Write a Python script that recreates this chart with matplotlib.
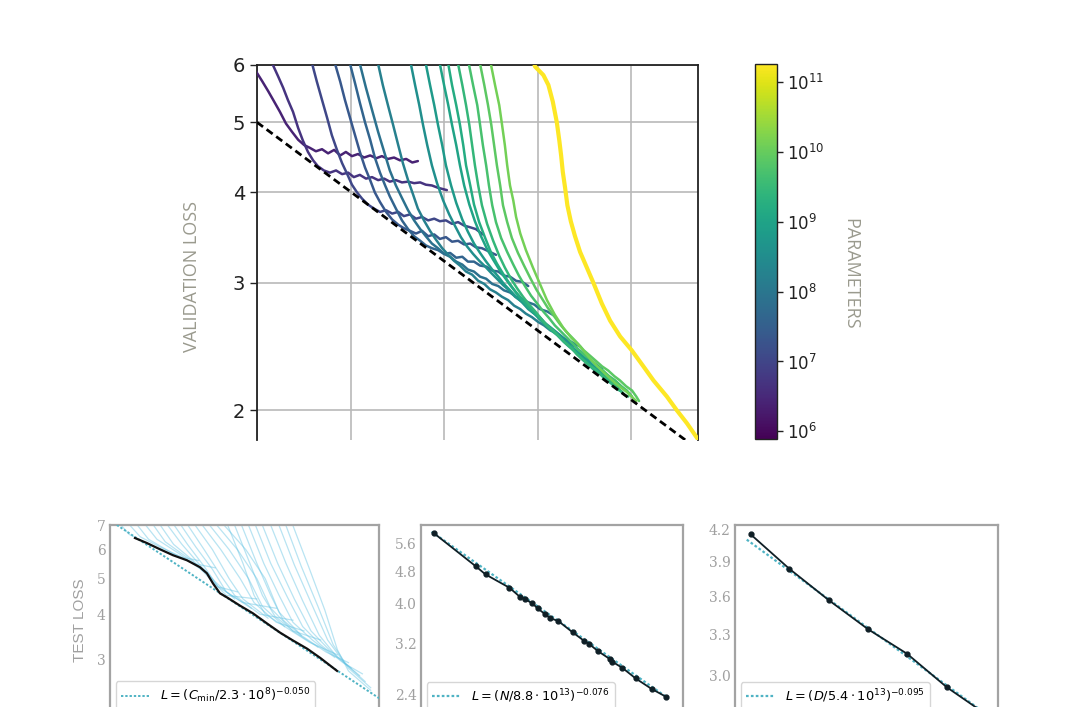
import numpy as np
import matplotlib
matplotlib.use("Agg")
import matplotlib.pyplot as plt
from matplotlib.colors import LogNorm
from matplotlib.ticker import FixedLocator, NullLocator, FixedFormatter
import matplotlib.cm as cm

# ---------------- top chart: validation loss vs compute (log10 PF-days) ----------------
model_params = [2.5e6, 5.0e6, 1.1e7, 2.2e7, 4.0e7, 7.9e7, 1.6e8, 3.5e8, 6.3e8,
                1.0e9, 1.6e9, 2.8e9, 5.0e9, 7.9e9, 1.3e10, 1.75e11]

v01_logc = [-6.10, -6.00, -5.89, -5.76, -5.64, -5.51, -5.38, -5.25, -5.12, -4.99, -4.87, -4.74, -4.61, -4.48,
            -4.35, -4.22, -4.10, -3.97, -3.84, -3.71, -3.58, -3.45, -3.33, -3.20, -3.07, -2.94, -2.81, -2.68, -2.56]
v01_loss = [6.05, 5.85, 5.70, 5.52, 5.35, 5.17, 4.98, 4.85, 4.73, 4.65, 4.61, 4.56, 4.59, 4.53,
            4.58, 4.50, 4.55, 4.49, 4.52, 4.47, 4.50, 4.46, 4.49, 4.45, 4.47, 4.43, 4.45, 4.40, 4.42]

v02_logc = [-5.70, -5.55, -5.44, -5.34, -5.23, -5.12, -5.02, -4.91, -4.80, -4.70, -4.57, -4.44, -4.31, -4.18, -4.05,
            -3.93, -3.80, -3.67, -3.54, -3.41, -3.28, -3.16, -3.03, -2.90, -2.77, -2.64, -2.51, -2.39, -2.26, -2.13, -1.94]
v02_loss = [6.08, 5.79, 5.58, 5.37, 5.17, 4.91, 4.72, 4.55, 4.43, 4.35, 4.29, 4.26, 4.29, 4.24, 4.26,
            4.20, 4.23, 4.18, 4.20, 4.16, 4.18, 4.14, 4.16, 4.13, 4.14, 4.12, 4.13, 4.10, 4.09, 4.06, 4.03]

v03_logc = [-4.82, -4.72, -4.61, -4.50, -4.40, -4.29, -4.18, -4.07, -3.97, -3.86, -3.75, -3.63, -3.50, -3.37, -3.24, -3.11,
            -2.98, -2.86, -2.73, -2.60, -2.47, -2.34, -2.21, -2.09, -1.96, -1.83, -1.70, -1.57, -1.44, -1.32, -1.17]
v03_loss = [6.02, 5.69, 5.37, 5.07, 4.80, 4.58, 4.39, 4.24, 4.10, 4.00, 3.92, 3.85, 3.80, 3.76, 3.78, 3.74,
            3.76, 3.71, 3.73, 3.68, 3.70, 3.66, 3.68, 3.65, 3.66, 3.62, 3.64, 3.60, 3.58, 3.56, 3.50]

v04_logc = [-4.33, -4.22, -4.12, -4.01, -3.90, -3.80, -3.69, -3.58, -3.48, -3.37, -3.24, -3.11, -2.98, -2.86, -2.73,
            -2.60, -2.47, -2.34, -2.21, -2.09, -1.96, -1.83, -1.70, -1.57, -1.44, -1.32, -1.19, -1.06, -0.89]
v04_loss = [6.02, 5.69, 5.37, 5.07, 4.79, 4.55, 4.33, 4.16, 4.00, 3.88, 3.76, 3.67, 3.61, 3.57, 3.54,
            3.51, 3.54, 3.48, 3.50, 3.45, 3.47, 3.42, 3.43, 3.39, 3.40, 3.36, 3.35, 3.32, 3.28]

v05_logc = [-4.01, -3.90, -3.80, -3.69, -3.58, -3.48, -3.37, -3.26, -3.16, -3.03, -2.90, -2.77, -2.64, -2.51, -2.39, -2.26,
            -2.13, -2.00, -1.87, -1.74, -1.61, -1.49, -1.36, -1.23, -1.10, -0.97, -0.84, -0.72, -0.59, -0.46, -0.33, -0.20]
v05_loss = [6.02, 5.65, 5.32, 5.00, 4.73, 4.47, 4.26, 4.09, 3.95, 3.80, 3.66, 3.56, 3.48, 3.43, 3.38, 3.35,
            3.33, 3.29, 3.30, 3.25, 3.26, 3.21, 3.21, 3.17, 3.16, 3.12, 3.11, 3.07, 3.06, 3.02, 3.01, 2.97]

v06_logc = [-3.80, -3.67, -3.54, -3.41, -3.28, -3.16, -3.03, -2.90, -2.77, -2.64, -2.51, -2.39, -2.26, -2.13, -2.00, -1.87, -1.74,
            -1.61, -1.49, -1.36, -1.23, -1.10, -0.97, -0.84, -0.72, -0.59, -0.46, -0.33, -0.20, -0.07, 0.05, 0.20, 0.37]
v06_loss = [6.02, 5.58, 5.20, 4.85, 4.55, 4.29, 4.09, 3.93, 3.78, 3.66, 3.56, 3.48, 3.40, 3.35, 3.29, 3.26, 3.21,
            3.18, 3.13, 3.11, 3.06, 3.04, 2.99, 2.97, 2.93, 2.91, 2.87, 2.85, 2.82, 2.80, 2.76, 2.74, 2.70]

v07_logc = [-3.41, -3.31, -3.20, -3.09, -2.98, -2.88, -2.77, -2.66, -2.56, -2.43, -2.30, -2.17, -2.04, -1.91, -1.79, -1.66, -1.53, -1.40,
            -1.27, -1.14, -1.02, -0.89, -0.76, -0.63, -0.50, -0.37, -0.25, -0.12, 0.01, 0.14, 0.27, 0.39, 0.52, 0.70, 0.91]
v07_loss = [6.02, 5.63, 5.28, 4.96, 4.65, 4.39, 4.16, 3.97, 3.80, 3.66, 3.54, 3.44, 3.35, 3.28, 3.22, 3.17, 3.11, 3.08,
            3.02, 2.99, 2.94, 2.91, 2.87, 2.84, 2.79, 2.76, 2.72, 2.69, 2.65, 2.62, 2.58, 2.56, 2.52, 2.49, 2.45]

v08_logc = [-2.71, -2.62, -2.53, -2.45, -2.36, -2.26, -2.15, -2.02, -1.89, -1.76, -1.64, -1.51, -1.38, -1.25, -1.12, -1.00, -0.87,
            -0.74, -0.61, -0.48, -0.35, -0.22, -0.10, 0.03, 0.16, 0.29, 0.42, 0.55, 0.67, 0.80, 0.93, 1.08, 1.23, 1.38]
v08_loss = [6.02, 5.63, 5.28, 4.96, 4.65, 4.36, 4.12, 3.90, 3.73, 3.59, 3.47, 3.37, 3.29, 3.22, 3.16, 3.10, 3.04,
            2.98, 2.93, 2.87, 2.83, 2.78, 2.73, 2.69, 2.64, 2.60, 2.56, 2.52, 2.48, 2.45, 2.41, 2.36, 2.32, 2.28]

v09_logc = [-2.39, -2.30, -2.21, -2.13, -2.04, -1.96, -1.85, -1.74, -1.61, -1.49, -1.36, -1.23, -1.10, -0.97, -0.84, -0.72, -0.59,
            -0.46, -0.33, -0.20, -0.07, 0.05, 0.18, 0.31, 0.44, 0.57, 0.70, 0.82, 0.95, 1.08, 1.21, 1.34, 1.47, 1.59]
v09_loss = [6.02, 5.63, 5.28, 4.96, 4.65, 4.36, 4.09, 3.87, 3.67, 3.53, 3.40, 3.30, 3.21, 3.13, 3.06, 2.99, 2.93,
            2.87, 2.82, 2.76, 2.72, 2.67, 2.62, 2.58, 2.54, 2.49, 2.45, 2.42, 2.38, 2.34, 2.30, 2.27, 2.23, 2.20]

v10_logc = [-2.09, -2.00, -1.91, -1.83, -1.74, -1.66, -1.57, -1.46, -1.34, -1.21, -1.08, -0.95, -0.82, -0.70, -0.57, -0.44, -0.31,
            -0.18, -0.05, 0.07, 0.20, 0.33, 0.46, 0.59, 0.72, 0.84, 0.97, 1.10, 1.23, 1.36, 1.49, 1.62, 1.72]
v10_loss = [6.02, 5.63, 5.28, 4.96, 4.65, 4.36, 4.09, 3.85, 3.65, 3.48, 3.34, 3.23, 3.13, 3.05, 2.97, 2.90, 2.84,
            2.78, 2.73, 2.68, 2.62, 2.58, 2.53, 2.48, 2.45, 2.40, 2.36, 2.32, 2.28, 2.25, 2.21, 2.18, 2.15]

v11_logc = [-1.91, -1.83, -1.74, -1.66, -1.59, -1.53, -1.44, -1.36, -1.25, -1.12, -1.00, -0.87, -0.74, -0.61, -0.48, -0.35, -0.22,
            -0.10, 0.03, 0.16, 0.29, 0.42, 0.55, 0.67, 0.80, 0.93, 1.06, 1.19, 1.32, 1.44, 1.57, 1.70, 1.81]
v11_loss = [6.02, 5.63, 5.28, 4.96, 4.65, 4.36, 4.09, 3.85, 3.64, 3.46, 3.31, 3.19, 3.09, 3.00, 2.92, 2.85, 2.79,
            2.74, 2.69, 2.63, 2.58, 2.54, 2.49, 2.45, 2.41, 2.36, 2.32, 2.28, 2.25, 2.21, 2.18, 2.14, 2.12]

v12_logc = [-1.70, -1.61, -1.53, -1.46, -1.40, -1.34, -1.27, -1.19, -1.08, -0.95, -0.82, -0.70, -0.57, -0.44, -0.31, -0.18, -0.05,
            0.07, 0.20, 0.33, 0.46, 0.59, 0.72, 0.84, 0.97, 1.10, 1.23, 1.36, 1.49, 1.62, 1.74, 1.87, 1.94]
v12_loss = [6.02, 5.63, 5.28, 4.96, 4.65, 4.36, 4.09, 3.84, 3.62, 3.43, 3.27, 3.15, 3.04, 2.95, 2.87, 2.80, 2.74,
            2.68, 2.62, 2.58, 2.53, 2.48, 2.44, 2.39, 2.35, 2.31, 2.28, 2.24, 2.21, 2.17, 2.14, 2.10, 2.09]

v13_logc = [-1.47, -1.38, -1.29, -1.23, -1.17, -1.10, -1.04, -0.97, -0.89, -0.78, -0.65, -0.52, -0.40, -0.27, -0.14, -0.01,
            0.12, 0.25, 0.37, 0.50, 0.63, 0.76, 0.89, 1.02, 1.14, 1.27, 1.40, 1.53, 1.66, 1.79, 1.91, 2.02]
v13_loss = [6.02, 5.63, 5.28, 4.96, 4.65, 4.36, 4.09, 3.84, 3.64, 3.46, 3.31, 3.18, 3.07, 2.97, 2.88, 2.81,
            2.74, 2.68, 2.62, 2.57, 2.52, 2.47, 2.42, 2.38, 2.35, 2.30, 2.27, 2.23, 2.20, 2.16, 2.13, 2.09]

v14_logc = [-1.23, -1.14, -1.06, -0.99, -0.93, -0.87, -0.80, -0.74, -0.65, -0.55, -0.42, -0.29, -0.16, -0.03, 0.10, 0.22,
            0.35, 0.48, 0.61, 0.74, 0.87, 0.99, 1.12, 1.25, 1.38, 1.51, 1.64, 1.76, 1.89, 2.02, 2.11, 2.17]
v14_loss = [6.02, 5.63, 5.28, 4.96, 4.65, 4.36, 4.09, 3.84, 3.64, 3.46, 3.30, 3.17, 3.05, 2.94, 2.85, 2.77,
            2.70, 2.63, 2.57, 2.52, 2.47, 2.42, 2.38, 2.34, 2.30, 2.27, 2.23, 2.20, 2.16, 2.13, 2.09, 2.06]

v15_logc = [-1.00, -0.91, -0.82, -0.76, -0.70, -0.65, -0.59, -0.52, -0.46, -0.37, -0.25, -0.10, 0.05, 0.20, 0.37,
            0.55, 0.72, 0.91, 1.14, 1.40, 1.66, 1.91, 2.11]
v15_loss = [6.02, 5.63, 5.28, 4.96, 4.65, 4.36, 4.09, 3.90, 3.70, 3.51, 3.33, 3.15, 2.99, 2.84, 2.71,
            2.60, 2.52, 2.45, 2.35, 2.26, 2.18, 2.12, 2.06]

v16_logc = [-0.08, -0.054, 0.124, 0.231, 0.325, 0.411, 0.466, 0.503, 0.539, 0.588, 0.637, 0.710, 0.80, 0.909,
            0.980, 1.194, 1.373, 1.551, 1.765, 2.015, 2.263, 2.477, 2.764, 2.978, 3.192, 3.44, 3.50]
v16_loss = [6.05, 5.97, 5.81, 5.63, 5.34, 5.00, 4.71, 4.50, 4.27, 4.06, 3.84, 3.65, 3.48, 3.31,
            3.23, 3.00, 2.81, 2.66, 2.53, 2.42, 2.30, 2.20, 2.09, 2.00, 1.92, 1.82, 1.79]

frontier_logc = [-6.0, 3.16]
frontier_loss = [5.0, 1.82]

y_ticks_top = [2, 3, 4, 5, 6]
x_grid_top = [1e-6, 1e-4, 1e-2, 1e0, 1e2]
cbar_ticks = [1e6, 1e7, 1e8, 1e9, 1e10, 1e11]

# ---------------- bottom left: test loss vs compute ----------------
tl01 = [(-8.6, 7.3), (-8.1, 6.6), (-7.3, 6.15), (-6.5, 5.8)]
tl02 = [(-8.3, 7.3), (-7.7, 6.5), (-7.0, 6.1), (-6.2, 5.72), (-5.6, 5.6)]
tl03 = [(-8.0, 7.3), (-7.4, 6.4), (-6.6, 5.9), (-5.8, 5.5), (-5.0, 5.35)]
tl04 = [(-7.7, 7.3), (-7.1, 6.4), (-6.3, 5.85), (-5.6, 5.35), (-5.2, 5.1)]
tl05 = [(-7.4, 7.3), (-6.8, 6.3), (-6.0, 5.7), (-5.3, 5.2), (-4.9, 4.75), (-4.2, 4.6)]
tl06 = [(-7.15, 7.3), (-6.5, 6.2), (-5.8, 5.6), (-5.2, 5.0), (-4.6, 4.5), (-3.5, 4.4)]
tl07 = [(-6.9, 7.3), (-6.2, 6.2), (-5.6, 5.5), (-5.0, 4.9), (-4.3, 4.4)]
tl08 = [(-6.65, 7.3), (-6.0, 6.2), (-5.4, 5.4), (-4.9, 4.75), (-4.0, 4.3), (-2.8, 4.15)]
tl09 = [(-6.4, 7.3), (-5.7, 6.1), (-5.1, 5.3), (-4.6, 4.6), (-3.7, 4.15)]
tl10 = [(-6.15, 7.3), (-5.4, 6.0), (-4.8, 5.1), (-4.3, 4.5), (-3.4, 4.0), (-2.2, 3.85)]
tl11 = [(-5.9, 7.3), (-5.1, 6.0), (-4.5, 5.0), (-4.0, 4.4), (-3.1, 3.9)]
tl12 = [(-5.65, 7.3), (-4.8, 6.0), (-4.1, 5.0), (-3.6, 4.3), (-2.8, 3.8), (-1.8, 3.6)]
tl13 = [(-5.4, 7.3), (-4.5, 6.0), (-3.8, 5.0), (-3.3, 4.2), (-2.5, 3.7)]
tl14 = [(-5.15, 7.3), (-4.2, 6.0), (-3.5, 5.0), (-3.0, 4.15), (-2.2, 3.6), (-1.2, 3.4)]
tl15 = [(-4.9, 7.3), (-3.9, 6.0), (-3.2, 5.0), (-2.7, 4.05), (-1.9, 3.5)]
tl16 = [(-4.65, 7.3), (-4.0, 5.5), (-3.6, 4.5), (-3.2, 4.0), (-2.5, 3.7), (-1.6, 3.35), (-0.6, 3.1)]
tl17 = [(-4.4, 7.3), (-3.75, 5.5), (-3.3, 4.5), (-2.85, 3.95), (-2.2, 3.6), (-1.3, 3.25)]
tl18 = [(-4.15, 7.3), (-3.5, 5.5), (-3.0, 4.5), (-2.55, 3.85), (-1.9, 3.5), (-1.0, 3.15), (-0.2, 2.95)]
tl19 = [(-3.9, 7.3), (-3.25, 5.5), (-2.7, 4.5), (-2.2, 3.8), (-1.5, 3.4), (-0.7, 3.05)]
tl20 = [(-3.65, 7.3), (-3.0, 5.5), (-2.4, 4.45), (-1.85, 3.7), (-1.2, 3.3), (-0.4, 2.95), (0.3, 2.75)]
tl21 = [(-3.4, 7.3), (-2.75, 5.5), (-2.15, 4.4), (-1.55, 3.6), (-0.9, 3.2), (-0.1, 2.85)]
tl22 = [(-3.1, 7.3), (-2.45, 5.5), (-1.85, 4.35), (-1.25, 3.5), (-0.6, 3.05), (0.2, 2.72)]
tl23 = [(-2.8, 7.3), (-2.15, 5.45), (-1.55, 4.3), (-0.95, 3.4), (-0.35, 2.95), (0.4, 2.62)]
tl24 = [(-2.55, 7.3), (-1.9, 5.4), (-1.3, 4.2), (-0.75, 3.3), (-0.2, 2.85), (0.6, 2.52)]
tl25 = [(-2.3, 7.3), (-1.6, 5.3), (-1.05, 4.1), (-0.6, 3.2), (-0.2, 2.8), (0.6, 2.48)]

p1_front_logc = [-7.89, -7.46, -6.99, -6.52, -6.02, -5.55, -5.30, -5.08, -4.83, -4.57, -4.11, -3.64,
                 -3.13, -2.66, -2.20, -1.69, -1.22, -0.61]
p1_front_loss = [6.45, 6.25, 6.01, 5.79, 5.61, 5.37, 5.17, 4.85, 4.56, 4.44, 4.22, 4.02,
                 3.77, 3.56, 3.39, 3.22, 3.04, 2.80]
p1_fit_logc = [-8.8, 0.9]
p1_fit_loss = [7.21, 2.36]
p1_yticks = [3, 4, 5, 6, 7]

# ---------------- bottom middle: test loss vs parameters ----------------
p2_logn = [3.76, 4.70, 4.92, 5.46, 5.70, 5.81, 5.98, 6.10, 6.26, 6.39, 6.57, 6.89, 7.15, 7.27,
           7.46, 7.74, 7.79, 8.02, 8.32, 8.68, 9.00]
p2_loss = [5.94, 4.94, 4.72, 4.38, 4.16, 4.11, 4.01, 3.90, 3.78, 3.69, 3.63, 3.41, 3.25, 3.19,
           3.07, 2.93, 2.89, 2.79, 2.63, 2.48, 2.375]
p2_fit_logn = [3.7, 9.05]
p2_fit_loss = [6.00, 2.355]
p2_yticks = [2.4, 3.2, 4.0, 4.8, 5.6]

# ---------------- bottom right: test loss vs dataset size ----------------
p3_logd = [7.309, 7.605, 7.909, 8.210, 8.508, 8.815, 9.116]
p3_loss = [4.15, 3.835, 3.567, 3.337, 3.155, 2.92, 2.744]
p3_fit_logd = [7.279, 9.2]
p3_fit_loss = [4.10, 2.696]
p3_yticks = [3.0, 3.3, 3.6, 3.9, 4.2]

W, H = 1080, 707
fig = plt.figure(figsize=(W / 100, H / 100), dpi=100)
fig.patch.set_facecolor("white")


def fx(px):
    return px / W


def fy(py):
    return 1 - py / H


# ---------- top axes ----------
ax = fig.add_axes([fx(257), fy(440), 441 / W, 375 / H])
norm = LogNorm(vmin=10 ** 5.89, vmax=10 ** 11.26)
cmap = plt.get_cmap("viridis")
runs = [(v01_logc, v01_loss), (v02_logc, v02_loss), (v03_logc, v03_loss), (v04_logc, v04_loss),
        (v05_logc, v05_loss), (v06_logc, v06_loss), (v07_logc, v07_loss), (v08_logc, v08_loss),
        (v09_logc, v09_loss), (v10_logc, v10_loss), (v11_logc, v11_loss), (v12_logc, v12_loss),
        (v13_logc, v13_loss), (v14_logc, v14_loss), (v15_logc, v15_loss), (v16_logc, v16_loss)]
for (lc, ls), p in zip(runs, model_params):
    big = p > 1e11
    ax.plot(10 ** np.array(lc), ls, color=cmap(norm(p)), lw=3.0 if big else 1.8,
            solid_joinstyle="round", solid_capstyle="round", zorder=3)
ax.plot(10 ** np.array(frontier_logc), frontier_loss, color="black", lw=2.0,
        ls=(0, (2.7, 1.6)), zorder=4)
ax.set_xscale("log")
ax.set_yscale("log")
ax.set_xlim(1e-6, 10 ** 3.43)
ax.set_ylim(1.82, 6.0)
ax.yaxis.set_major_locator(FixedLocator(y_ticks_top))
ax.yaxis.set_major_formatter(FixedFormatter([str(t) for t in y_ticks_top]))
ax.yaxis.set_minor_locator(NullLocator())
ax.xaxis.set_major_locator(FixedLocator(x_grid_top))
ax.xaxis.set_minor_locator(NullLocator())
ax.tick_params(axis="x", length=0, labelbottom=False)
ax.tick_params(axis="y", labelsize=14, length=5, width=1.0, colors="#222222")
ax.grid(True, color="#b9b9b9", lw=1.2)
ax.set_axisbelow(True)
ax.spines["bottom"].set_visible(False)
for s in ["top", "left", "right"]:
    ax.spines[s].set_color("#222222")
    ax.spines[s].set_linewidth(1.3)

fig.text(fx(192), fy(277), "VALIDATION LOSS", rotation=90, ha="center", va="center",
         fontsize=13, color="#9a9a8e", family="Open Sans")

# colorbar
cax = fig.add_axes([fx(755), fy(439), 22 / W, 375 / H])
sm = cm.ScalarMappable(norm=norm, cmap=cmap)
cb = fig.colorbar(sm, cax=cax)
cb.set_ticks(cbar_ticks)
cb.minorticks_off()
cb.ax.tick_params(labelsize=12, length=4, width=1.0, colors="#222222")
cb.outline.set_linewidth(1.0)
cb.outline.set_edgecolor("#222222")
fig.text(fx(850), fy(274), "PARAMETERS", rotation=270, ha="center", va="center",
         fontsize=13, color="#9a9a8e", family="Open Sans")

# ---------- bottom panels ----------
frame_col = "#a3a3a3"
tick_col = "#a0a0a0"
fit_col = "#4fb3c4"


def style_bottom(a, yticks, fmt, ylim, xlim):
    a.set_xscale("log")
    a.set_yscale("log")
    a.set_xlim(*xlim)
    a.set_ylim(*ylim)
    a.set_yticks(yticks, [fmt.format(t) for t in yticks], fontfamily="DejaVu Serif",
                 fontsize=10, color=tick_col)
    a.yaxis.set_minor_locator(NullLocator())
    a.set_xticks([])
    a.xaxis.set_minor_locator(NullLocator())
    a.tick_params(length=0, pad=3)
    for s in a.spines.values():
        s.set_color(frame_col)
        s.set_linewidth(1.6)


b_bottom = fy(716)
b_height = 191 / H
leg_kw = dict(loc="lower left", fontsize=9.3, handlelength=2.2, borderaxespad=0.45)

a1 = fig.add_axes([fx(110), b_bottom, 269 / W, b_height])
light = [tl01, tl02, tl03, tl04, tl05, tl06, tl07, tl08, tl09, tl10, tl11, tl12, tl13,
         tl14, tl15, tl16, tl17, tl18, tl19, tl20, tl21, tl22, tl23, tl24, tl25]
for c in light:
    xs = 10 ** np.array([q[0] for q in c])
    ys = [q[1] for q in c]
    a1.plot(xs, ys, color="#63c3e3", alpha=0.45, lw=0.9, zorder=2)
a1.plot(10 ** np.array(p1_fit_logc), p1_fit_loss, color=fit_col, lw=1.4, ls=(0, (1.2, 1.0)),
        zorder=3, label=r"$L=(C_{\rm min}/2.3\cdot 10^{8})^{-0.050}$")
a1.plot(10 ** np.array(p1_front_logc), p1_front_loss, color="#111111", lw=1.6, zorder=4)
style_bottom(a1, p1_yticks, "{:d}", (2.11, 7.0), (10 ** -8.79, 10 ** 0.90))
a1.legend(**leg_kw)
fig.text(fx(80), fy(620), "TEST LOSS", rotation=90, ha="center", va="center",
         fontsize=11, color="#a0a0a0", family="Liberation Sans")

a2 = fig.add_axes([fx(421), b_bottom, 262 / W, b_height])
a2.plot(10 ** np.array(p2_fit_logn), p2_fit_loss, color=fit_col, lw=1.6, ls=(0, (1.2, 1.0)),
        zorder=3, label=r"$L=(N/8.8\cdot 10^{13})^{-0.076}$")
a2.plot(10 ** np.array(p2_logn), p2_loss, color="#0f1f26", lw=1.3, marker="o", ms=3.5, zorder=4)
style_bottom(a2, p2_yticks, "{:.1f}", (2.13, 6.23), (10 ** 3.46, 10 ** 9.39))
a2.legend(**leg_kw)

a3 = fig.add_axes([fx(735), b_bottom, 263 / W, b_height])
a3.plot(10 ** np.array(p3_fit_logd), p3_fit_loss, color=fit_col, lw=1.6, ls=(0, (1.2, 1.0)),
        zorder=3, label=r"$L=(D/5.4\cdot 10^{13})^{-0.095}$")
a3.plot(10 ** np.array(p3_logd), p3_loss, color="#0f1f26", lw=1.3, marker="o", ms=3.5, zorder=4)
style_bottom(a3, p3_yticks, "{:.1f}", (2.735, 4.24), (10 ** 7.189, 10 ** 9.205))
a3.legend(**leg_kw)

fig.savefig("out.png", dpi=100, facecolor="white")
